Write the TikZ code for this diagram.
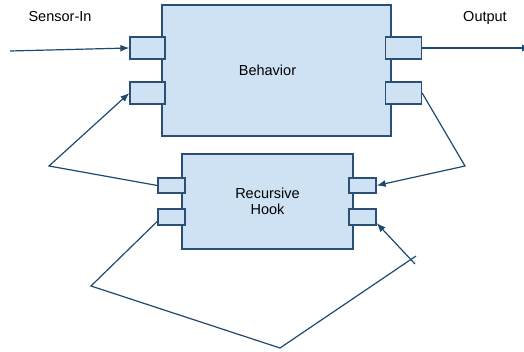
\documentclass[tikz,border=0pt]{standalone}
\usepackage{fontspec}
\setmainfont{Liberation Sans}
\usetikzlibrary{positioning, arrows.meta, calc}
\definecolor{boxFill}{HTML}{CFE2F3}
\definecolor{boxLine}{HTML}{2B4F75}
\definecolor{wireCol}{HTML}{1F4A70}
\tikzstyle{module}=[fill=boxFill, draw=boxLine, line width=1.3pt, inner sep=0pt,
  align=center, font=\fontsize{14.5}{16}\selectfont]
\tikzstyle{port}=[fill=boxFill, draw=boxLine, line width=1.3pt, inner sep=0pt]
\tikzstyle{wire}=[draw=wireCol, line width=1.2pt]
\tikzstyle{arrow}=[-{Latex[length=9pt,width=7pt]}, wire]
\tikzstyle{tagText}=[font=\fontsize{14.5}{16}\selectfont, text=black]

\begin{document}
\begin{tikzpicture}[x=1pt, y=-1pt]
      \useasboundingbox (0,0) rectangle (524,352);

      % modules
      \node[module, minimum width=229pt, minimum height=131pt] (behavior) at (276.5,70.5) {\hspace*{-18pt}\raisebox{-2pt}{Behavior}};
      \node[module, minimum width=171pt, minimum height=95pt] (hook) at (267.5,201.5) {Recursive\\Hook};

      % ports of the behavior module
      \node[port, minimum width=35pt, minimum height=22pt] (bL1) at (147.5,48) {};
      \node[port, minimum width=35pt, minimum height=22pt] (bL2) at (147.5,93) {};
      \node[port, minimum width=36pt, minimum height=22pt] (bR1) at (403.5,48) {};
      \node[port, minimum width=36pt, minimum height=22pt] (bR2) at (403.5,93) {};

      % ports of the hook module
      \node[port, minimum width=27pt, minimum height=15pt] (hL1) at (171.5,185.5) {};
      \node[port, minimum width=27pt, minimum height=16pt] (hL2) at (171.5,217) {};
      \node[port, minimum width=27pt, minimum height=15pt] (hR1) at (362.5,185.5) {};
      \node[port, minimum width=27pt, minimum height=16pt] (hR2) at (362.5,217) {};

      \coordinate (inStart) at (10,51);
      \coordinate (outEnd) at (531,48);
      \coordinate (bendA) at (49,166);
      \coordinate (bendB) at (465,166);
      \coordinate (bendC) at (91,286);
      \coordinate (bendD) at (280,348);
      \coordinate (bendE) at (416,256);
      \coordinate (tailE) at (415,264);

      \draw[arrow] (inStart) -- (bL1.west);
      \draw[arrow] (bR1.east) -- (outEnd);
      \draw[arrow] (hL1.west) -- (bendA) -- (bL2.west);
      \draw[arrow] (bR2.east) -- (bendB) -- (hR1.east);
      \draw[wire] ($(hL2.west)!0.5!(hL2.south west)$) -- (bendC) -- (bendD) -- (bendE);
      \draw[arrow] (tailE) -- ($(hR2.east)!0.7!(hR2.south east)$);

      \node[tagText] (sensorIn) at (60,17) {Sensor-In};
      \node[tagText] (output) at (485,18) {Output};
    \end{tikzpicture}
\end{document}
